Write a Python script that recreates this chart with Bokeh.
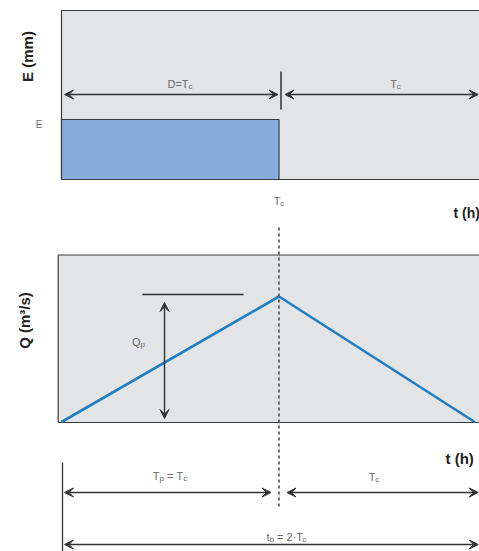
from bokeh.plotting import figure
from bokeh.models import Range1d, ColumnDataSource, Arrow, VeeHead
from bokeh.core.properties import value
from bokeh.embed import file_html
from bokeh.resources import INLINE
import math

# ---------------- data (in units of Tc, E and Qp) ----------------
Tc = 1.0
rain_t = [0.0, 1.0]          # rainfall from 0 to D = Tc
rain_E = [1.0]               # rainfall depth E (normalised)
hyd_t = [0.0, 1.0, 1.9]      # triangular hydrograph time points
hyd_q = [0.0, 1.0, 0.0]      # discharge (normalised to Qp)
Qp_level = 1.016

# ---------------- layout (page pixels) ----------------
W, H = 479, 551
PX0, PY0 = 0, 0
X_T0, PX_PER_T = 61.0, 217.5        # t=0 at page x 61
Y_E0, PX_PER_E = 179.0, 60.0        # E=0 at page y 179
Y_Q0, PX_PER_Q = 421.5, 125.5       # Q=0 at page y 421.5

p = figure(width=W, height=H, output_backend="svg", toolbar_location=None,
           x_axis_location=None, y_axis_location=None, min_border=0,
           x_range=Range1d(PX0, PX0 + W), y_range=Range1d(PY0 + H, PY0))
p.outline_line_color = None
p.grid.visible = False
p.background_fill_color = "white"
p.border_fill_color = "white"

p.extra_x_ranges = {"t": Range1d((PX0 - X_T0) / PX_PER_T, (PX0 + W - X_T0) / PX_PER_T)}
p.extra_y_ranges = {
    "E": Range1d((Y_E0 - PY0 - H) / PX_PER_E, (Y_E0 - PY0) / PX_PER_E),
    "Q": Range1d((Y_Q0 - PY0 - H) / PX_PER_Q, (Y_Q0 - PY0) / PX_PER_Q),
}

BOX_FILL = "#e3e4e6"
EDGE = "#3a3a3a"
TXT = "#6a6a6a"
FONT = value("Liberation Sans")
NB = "\u00a0"

def gap(px):
    return px / PX_PER_T

# panel backgrounds
p.quad(left=[0.0], right=[2.3], bottom=[0.0], top=[(Y_E0 - 10) / PX_PER_E],
       x_range_name="t", y_range_name="E",
       fill_color=BOX_FILL, line_color=EDGE, line_width=1.2)
p.quad(left=[-gap(3.3)], right=[2.3], bottom=[-0.004], top=[(Y_Q0 - 254.5) / PX_PER_Q],
       x_range_name="t", y_range_name="Q",
       fill_color=BOX_FILL, line_color=EDGE, line_width=1.2)

# rainfall block
p.quad(left=[rain_t[0]], right=[rain_t[1]], bottom=[0.0], top=rain_E,
       x_range_name="t", y_range_name="E",
       fill_color="#85acdc", line_color=EDGE, line_width=1.2)

# hydrograph
p.line(hyd_t, hyd_q, x_range_name="t", y_range_name="Q",
       line_color="#1f7fc2", line_width=2.6)

# dashed line at Tc
p.segment(x0=[Tc], y0=[227], x1=[Tc], y1=[508], x_range_name="t",
          line_color="#444444", line_width=1.5, line_dash="3 3")

# small vertical tick in top panel
p.segment(x0=[Tc + gap(2)], y0=[71], x1=[Tc + gap(2)], y1=[109], x_range_name="t",
          line_color="#333333", line_width=1.5)

# left vertical line at bottom
p.segment(x0=[gap(1)], y0=[462], x1=[gap(1)], y1=[560], x_range_name="t",
          line_color="#333333", line_width=1.3)

# Qp horizontal level line
p.segment(x0=[0.372], y0=[Qp_level], x1=[0.837], y1=[Qp_level],
          x_range_name="t", y_range_name="Q", line_color="#333333", line_width=1.3)

def arrow(x0, x1, y0, y1, y_range="default"):
    src = ColumnDataSource(dict(x0=[x0], x1=[x1], y0=[y0], y1=[y1]))
    a = Arrow(x_start="x0", x_end="x1", y_start="y0", y_end="y1", source=src,
              start=VeeHead(size=9, fill_color="#333333", line_color="#333333"),
              end=VeeHead(size=9, fill_color="#333333", line_color="#333333"),
              line_color="#333333", line_width=1.4, x_range_name="t", y_range_name=y_range)
    p.add_layout(a)

# top arrows
arrow(gap(3), Tc - gap(1), 94, 94)
arrow(Tc + gap(6), 2 * Tc * 0.958, 94, 94)
# bottom arrows
arrow(gap(3), Tc - gap(8), 492, 492)
arrow(Tc + gap(8), 2 * Tc * 0.958, 492, 492)
arrow(gap(3), 2 * Tc * 0.958, 544, 544)
# Qp arrow
arrow(0.4736, 0.4736, (Y_Q0 - 418) / PX_PER_Q, (Y_Q0 - 302) / PX_PER_Q, "Q")

# ---------------- text with subscripts ----------------
WID = {"T": .611, "D": .722, "=": .584, "c": .5, "p": .556, "t": .278, "b": .556,
       " ": .278, NB: .278, "2": .556, "·": .278, "Q": .778, "E": .667}

def label(pieces, cx, base_y, size=11, sub=8, x_range="t"):
    widths = [sum(WID.get(ch, .55) for ch in s) * (sub if is_sub else size) for s, is_sub in pieces]
    off = -sum(widths) / 2
    main = dict(x=[], y=[], text=[], xo=[])
    subs = dict(x=[], y=[], text=[], xo=[])
    for (s, is_sub), w in zip(pieces, widths):
        d = subs if is_sub else main
        d["x"].append(cx)
        d["y"].append(base_y + (2.5 if is_sub else 0))
        d["text"].append(s)
        d["xo"].append(off)
        off += w
    for d, fs in ((main, size), (subs, sub)):
        if d["text"]:
            p.text(x="x", y="y", text="text", x_offset="xo", source=ColumnDataSource(d),
                   x_range_name=x_range, text_font=FONT, text_font_size=f"{fs}px",
                   text_color=TXT, text_align="left", text_baseline="alphabetic")

def tpos(px):
    return (px - X_T0) / PX_PER_T

label([("D=T", False), ("c", True)], tpos(179.5), 83)
label([("T", False), ("c", True)], tpos(395), 83)
label([("T", False), ("c", True)], Tc, 200)
label([("E", False)], tpos(38.5), 124, size=10)
label([("Q", False), ("p", True)], tpos(138), 341)
label([("T", False), ("p", True), (NB + "=" + NB + "T", False), ("c", True)], tpos(169.5), 475)
label([("T", False), ("c", True)], tpos(373.5), 476)
label([("t", False), ("b", True), (NB + "=" + NB + "2·T", False), ("c", True)], tpos(286), 536)

# bold axis titles
p.text(x=[453], y=[212], text=["t (h)"], text_font=FONT, text_font_size="14px",
       text_font_style="bold", text_color="#222222", text_baseline="alphabetic")
p.text(x=[445], y=[458], text=["t (h)"], text_font=FONT, text_font_size="15px",
       text_font_style="bold", text_color="#222222", text_baseline="alphabetic")
p.text(x=[27], y=[56], text=["E (mm)"], angle=math.pi / 2, text_font=FONT,
       text_font_size="15px", text_font_style="bold", text_color="#222222",
       text_align="center", text_baseline="middle")
p.text(x=[24], y=[320], text=["Q (m³/s)"], angle=math.pi / 2, text_font=FONT,
       text_font_size="15px", text_font_style="bold", text_color="#222222",
       text_align="center", text_baseline="middle")

open("out.html", "w").write(file_html(p, INLINE))
